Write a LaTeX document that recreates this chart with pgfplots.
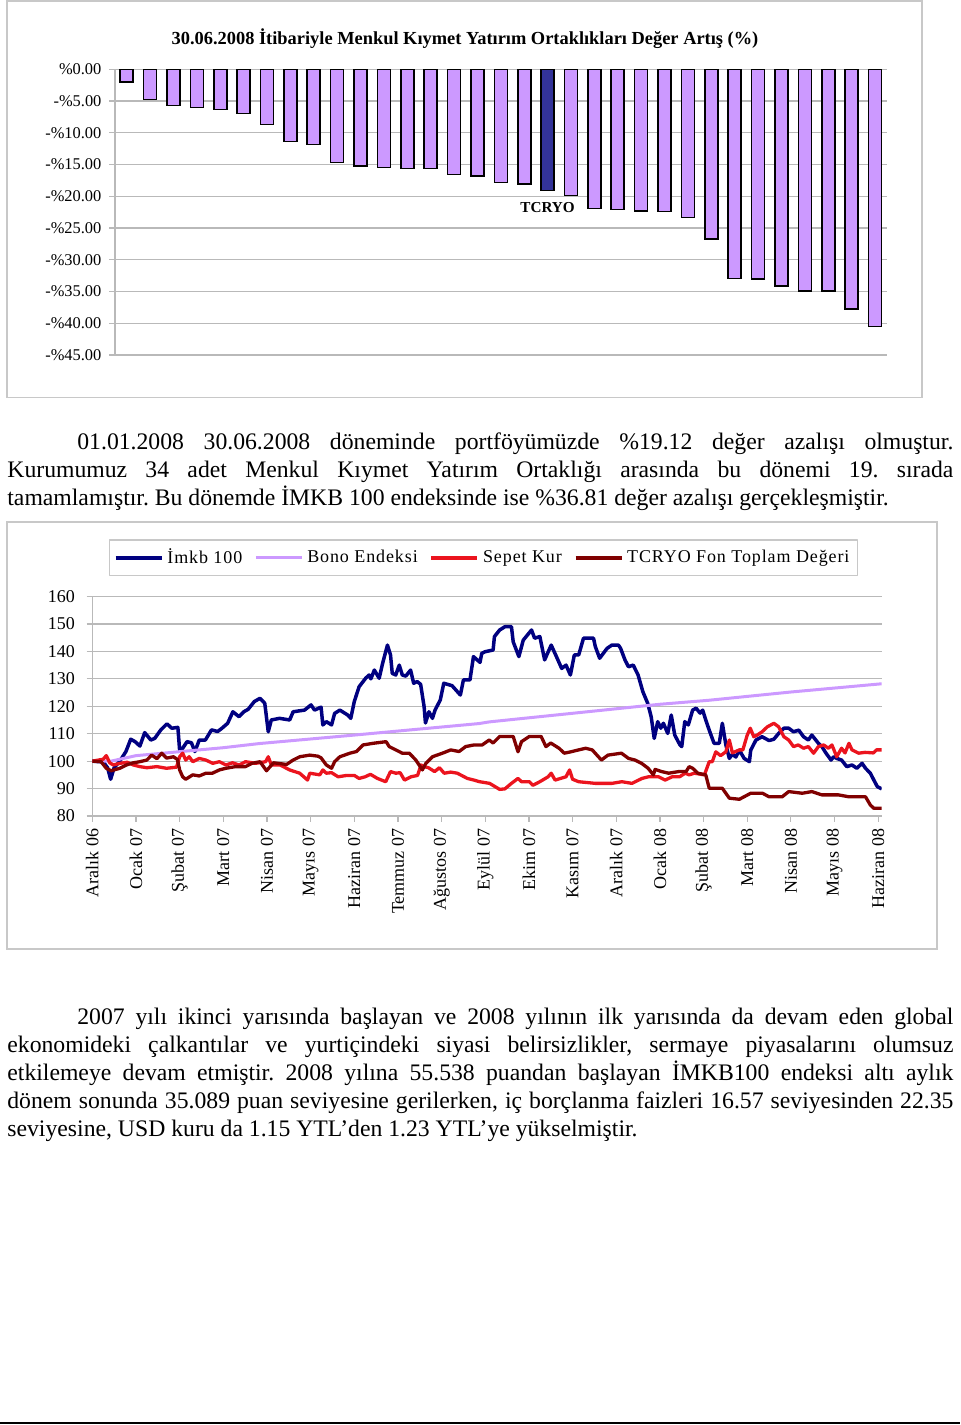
\documentclass[border=0pt]{standalone}
\usepackage{pgfplots}
\pgfplotsset{compat=1.18}
\usepackage{fontspec}
\setmainfont{Liberation Serif}
\definecolor{imkb}{RGB}{0,0,128}
\definecolor{bono}{RGB}{204,153,255}
\definecolor{sepet}{RGB}{235,20,30}
\definecolor{tcryo}{RGB}{128,0,0}
\definecolor{barfill}{RGB}{204,153,255}
\definecolor{barsel}{RGB}{51,51,153}
\definecolor{gridgray}{RGB}{185,185,185}
\definecolor{boxgray}{RGB}{200,200,200}
\begin{document}
\begin{tikzpicture}
\useasboundingbox (0pt,0pt) rectangle (480pt,-712.5pt);
% frames
\draw[boxgray, line width=0.8pt] (3.6pt,-0.4pt) rectangle (461pt,-198.8pt);
\draw[boxgray, line width=0.8pt] (3.6pt,-261pt) rectangle (468.4pt,-474.6pt);
% title
\node[font=\bfseries\fontsize{9.2}{10}\selectfont, anchor=base, inner sep=0pt] at (232.5pt,-22pt) {30.06.2008 İtibariyle Menkul Kıymet Yatırım Ortaklıkları Değer Artış (\%)};
% bar chart
\begin{axis}[
  at={(57.5pt,-177.5pt)}, anchor=south west, scale only axis,
  width=385.85pt, height=142.85pt,
  xmin=0.5, xmax=33.5, ymin=-45, ymax=0,
  axis x line=none, axis y line*=left,
  ytick={-45,-40,...,0},
  yticklabels={-\%45.00,-\%40.00,-\%35.00,-\%30.00,-\%25.00,-\%20.00,-\%15.00,-\%10.00,-\%5.00,\%0.00},
  ymajorgrids, grid style={gridgray, line width=0.6pt},
  axis line style={gridgray, line width=0.6pt},
  tick style={gridgray, line width=0.6pt}, tick align=outside, major tick length=2.8pt,
  yticklabel style={font=\fontsize{8.2}{9}\selectfont, inner sep=0pt, anchor=east},
  yticklabel shift=3.8pt,
  xtick=\empty,
  clip=false,
]
\addplot[ybar, bar width=6.5pt, bar shift=0pt, fill=barfill, draw=black, line width=0.8pt] coordinates {
(1,-2.0) (2,-4.73) (3,-5.67) (4,-5.99) (5,-6.30) (6,-6.99) (7,-8.67) (8,-11.40) (9,-11.87) (10,-14.65)
(11,-15.23) (12,-15.44) (13,-15.65) (14,-15.65) (15,-16.60) (16,-16.80) (17,-17.86) (18,-18.07)
(20,-19.85) (21,-21.90) (22,-22.10) (23,-22.30) (24,-22.40) (25,-23.37) (26,-26.70) (27,-32.98)
(28,-33.03) (29,-34.10) (30,-34.90) (31,-34.90) (32,-37.80) (33,-40.50)};
\addplot[ybar, bar width=6.5pt, bar shift=0pt, fill=barsel, draw=black, line width=0.8pt] coordinates {(19,-19.12)};
\node[font=\bfseries\fontsize{7.6}{8}\selectfont, inner sep=0pt] at (axis cs:19,-21.7) {TCRYO};
\end{axis}
% paragraph 1
\node[anchor=base west, inner sep=0pt] at (3.5pt,-224.5pt) {\parbox[t]{473pt}{\fontsize{11.85}{14}\selectfont\frenchspacing
\hspace*{35pt}01.01.2008 30.06.2008 döneminde portföyümüzde \%19.12 değer azalışı olmuştur.\linebreak
Kurumumuz 34 adet Menkul Kıymet Yatırım Ortaklığı arasında bu dönemi 19. sırada\linebreak
tamamlamıştır. Bu dönemde İMKB 100 endeksinde ise \%36.81 değer azalışı gerçekleşmiştir.}};
% line chart
\begin{axis}[
  at={(46.15pt,-408pt)}, anchor=south west, scale only axis,
  width=394.7pt, height=109.75pt,
  xmin=0, xmax=18.08, ymin=80, ymax=160,
  axis x line*=bottom, axis y line*=left,
  xtick={0,1,...,18},
  xticklabels={Aralık 06, Ocak 07, Şubat 07, Mart 07, Nisan 07, Mayıs 07, Haziran 07, Temmuz 07, Ağustos 07, Eylül 07, Ekim 07, Kasım 07, Aralık 07, Ocak 08, Şubat 08, Mart 08, Nisan 08, Mayıs 08, Haziran 08},
  ytick={80,90,...,160},
  ymajorgrids, grid style={gridgray, line width=0.6pt},
  axis line style={gridgray, line width=0.6pt},
  tick style={gridgray, line width=0.6pt}, tick align=outside, major tick length=2.8pt,
  xticklabel style={rotate=90, anchor=east, inner sep=0pt, font=\fontsize{9}{10}\selectfont},
  xticklabel shift=3.3pt,
  yticklabel style={inner sep=0pt, anchor=east, font=\fontsize{9}{10}\selectfont},
  yticklabel shift=5.7pt,
  /pgf/number format/assume math mode=true,
  legend columns=4,
  legend cell align=left,
  legend style={at={(0.4958,1.1761)}, anchor=center, draw=boxgray, line width=0.6pt,
    font=\fontsize{9}{10}\selectfont\addfontfeatures{LetterSpace=5},
    inner xsep=2pt, inner ysep=2.5pt,
    /tikz/every even column/.append style={column sep=4pt}},
  legend image code/.code={\draw[#1] (0pt,0pt) -- (23pt,0pt);},
  line join=round,
]
\addplot[imkb, line width=1.75pt] coordinates {
(0,100) (0.25,99.7) (0.35,97.6) (0.42,93.4) (0.5,97.6) (0.63,100) (0.77,103.5) (0.88,108) (0.98,107.1) (1.09,105.5)
(1.2,110.4) (1.34,107.7) (1.43,108.3) (1.57,111.4) (1.71,113.6) (1.82,112) (1.96,112.3) (2.0,104) (2.07,104.7) (2.17,107.1)
(2.27,106.7) (2.35,103.5) (2.45,107.7) (2.59,107.7) (2.73,111.4) (2.87,110.8) (2.97,112) (3.1,113.8) (3.22,118) (3.36,116.2)
(3.47,118) (3.57,118.9) (3.71,121.7) (3.84,122.9) (3.95,121.1) (4.03,110.7) (4.1,115) (4.29,115.6) (4.52,115) (4.6,118)
(4.86,118.6) (5.01,120.5) (5.09,118.6) (5.24,119.7) (5.28,113.2) (5.36,114.4) (5.48,113.2) (5.55,117.4) (5.67,118.6) (5.85,116.8)
(5.92,115.6) (6.0,121.7) (6.11,127.1) (6.26,130.2) (6.34,131.4) (6.38,130) (6.46,133.2) (6.57,130.2) (6.65,135.7) (6.76,142.3)
(6.83,138.7) (6.87,132) (6.95,131.4) (7.03,135) (7.1,131.4) (7.18,131) (7.29,133.2) (7.36,128.4) (7.44,129) (7.52,128)
(7.6,119.8) (7.63,113.9) (7.71,118) (7.79,115.6) (7.85,118.6) (7.97,122.3) (8.05,128.4) (8.24,127.5) (8.43,124.1) (8.5,129.6)
(8.65,129.6) (8.73,138.1) (8.88,136) (8.92,139.3) (9.0,139.9) (9.18,140.5) (9.21,145.4) (9.33,147.8) (9.45,149) (9.6,149)
(9.64,143.5) (9.77,138.1) (9.87,144.1) (10.06,147.8) (10.13,144.8) (10.25,145.4) (10.36,136.9) (10.51,142.3) (10.63,138.1) (10.75,133.8)
(10.85,135) (10.95,131.4) (11.04,138.7) (11.14,138.7) (11.25,144.8) (11.48,144.8) (11.52,141.8) (11.62,137.5) (11.79,141.1) (11.9,142.3)
(12.05,142.3) (12.1,141.1) (12.2,136.9) (12.28,134.4) (12.39,135) (12.5,131.4) (12.61,125.3) (12.72,121.1) (12.8,116.2) (12.87,108.3)
(12.95,114.4) (13.02,112) (13.08,113.8) (13.18,110.1) (13.26,116.8) (13.34,109.5) (13.46,105.9) (13.5,105.3) (13.57,114.4) (13.65,113.2)
(13.75,118.6) (13.83,119.3) (13.92,117.5) (13.98,118.6) (14.05,115) (14.13,111.3) (14.24,106.5) (14.36,106.5) (14.43,113.8) (14.51,106)
(14.59,101) (14.66,102.5) (14.74,101.5) (14.82,104) (14.93,101) (15.05,99.8) (15.08,104) (15.2,107.7) (15.34,108.9) (15.5,107.5)
(15.61,108) (15.72,110.1) (15.84,112) (15.95,112) (16.06,110.7) (16.18,111.3) (16.29,108.9) (16.4,107.7) (16.48,109.5) (16.63,106.5)
(16.71,105.3) (16.8,103) (16.92,100.4) (16.98,101.6) (17.05,101) (17.16,100.4) (17.28,98) (17.4,98.6) (17.51,97.4) (17.63,99.2)
(17.71,97.4) (17.82,95.6) (17.9,93.1) (17.98,90.7) (18.08,89.9)};
\addlegendentry{İmkb 100}
\addplot[bono, line width=1.5pt] coordinates {
(0,100) (0.43,100) (1,102) (3,104.9) (3.82,106.4) (6,109.5) (8.86,113.7) (9.09,114.3) (12.98,120.7) (14.13,122.2) (16,125.2) (18.08,128.2)};
\addlegendentry{Bono Endeksi}
\addplot[sepet, line width=1.65pt] coordinates {
(0,100) (0.25,100.7) (0.32,102) (0.4,99.4) (0.48,98.6) (0.63,99.2) (0.8,99.6) (0.94,98.6) (1.09,98) (1.25,97.6)
(1.48,98) (1.7,97.4) (1.93,97.8) (2.0,101.6) (2.07,102.9) (2.14,100.4) (2.22,101.6) (2.3,99.8) (2.45,101) (2.6,100.4)
(2.76,99.2) (2.91,99.8) (3.06,98.6) (3.21,99.4) (3.36,98.6) (3.51,99.8) (3.74,99.2) (3.97,99.8) (4.03,101.6) (4.1,98.6)
(4.3,98.6) (4.52,96.8) (4.75,95.6) (4.93,93.1) (4.98,95.6) (5.21,95) (5.28,96.8) (5.36,95.6) (5.48,95.8) (5.63,94.3)
(5.83,94.8) (6.0,94.8) (6.11,93.7) (6.25,94.3) (6.37,95.2) (6.53,93.7) (6.72,92.5) (6.83,96.2) (6.95,95.6) (7.05,95.8)
(7.15,93.1) (7.3,94.3) (7.45,94.8) (7.53,98.6) (7.6,98) (7.7,97.6) (7.84,96.2) (7.95,97.6) (8.06,95.6) (8.21,96)
(8.36,95.6) (8.59,93.7) (8.74,93.1) (8.87,92.5) (9.1,91.9) (9.33,89.7) (9.45,89.9) (9.6,91.9) (9.75,93.7) (9.83,92.5)
(10.01,92.5) (10.09,91.2) (10.25,92.5) (10.44,94.3) (10.51,95.6) (10.6,93.1) (10.85,94.3) (10.93,96.8) (11.0,93.4) (11.14,92.5)
(11.52,91.9) (11.9,91.9) (12.13,92.5) (12.36,91.9) (12.59,93.7) (12.74,94.3) (12.97,94.3) (13.12,93.1) (13.28,94.3) (13.45,94.3)
(13.58,95.6) (13.67,95) (13.79,95.6) (14.02,95) (14.13,99.8) (14.2,99.8) (14.28,103.4) (14.39,102) (14.51,103.4) (14.59,107.7)
(14.66,103) (14.82,104.1) (14.9,104.1) (15.0,109.5) (15.07,112) (15.15,108.9) (15.23,109.5) (15.34,110.7) (15.46,112.5) (15.61,113.8)
(15.72,112.5) (15.84,108.9) (15.95,107.7) (16.06,105.3) (16.17,105.9) (16.29,104.7) (16.4,105.3) (16.52,102.9) (16.63,105.3) (16.75,105.9)
(16.86,104.7) (16.94,105.9) (17.05,101.6) (17.16,104.7) (17.24,103) (17.33,106.5) (17.4,104.1) (17.55,102.9) (17.7,103.2) (17.89,103)
(17.96,104.1) (18.08,104.1)};
\addlegendentry{Sepet Kur}
\addplot[tcryo, line width=1.65pt] coordinates {
(0,100) (0.2,99.8) (0.32,97.4) (0.43,96.5) (0.63,97.4) (0.78,98.6) (0.94,99.4) (1.09,99.8) (1.25,100.4) (1.36,102.2)
(1.48,100.9) (1.59,102.9) (1.7,101.1) (1.86,101.6) (1.95,100.6) (2.0,96.8) (2.07,94.3) (2.14,93.4) (2.3,95) (2.45,94.6)
(2.6,95.6) (2.75,95.6) (2.91,96.8) (3.06,97.4) (3.28,98) (3.51,98) (3.66,99.2) (3.84,99.8) (3.99,96.5) (4.15,99.4)
(4.45,98.8) (4.6,100.4) (4.75,101.6) (4.98,102.2) (5.17,101.8) (5.24,101.2) (5.36,98.6) (5.48,97.4) (5.55,99.8) (5.67,101.6)
(5.9,102.9) (6.05,103.5) (6.2,105.9) (6.43,106.5) (6.73,107.1) (6.8,105.3) (6.95,104.1) (7.1,102.9) (7.26,102.9) (7.41,100.4)
(7.56,96.8) (7.64,99.2) (7.79,101.6) (8.02,102.9) (8.21,104.1) (8.4,103.5) (8.55,105.3) (8.74,105.9) (8.93,105.9) (9.09,107.7)
(9.18,106.6) (9.33,109) (9.64,109) (9.75,103.4) (9.83,107.1) (10.01,109) (10.28,109) (10.39,105.3) (10.5,106.6) (10.69,104.7)
(10.81,102.9) (10.96,103.4) (11.14,104.1) (11.3,104.7) (11.45,104.1) (11.66,100.4) (11.81,102.2) (12.12,102.9) (12.28,101) (12.43,100.4)
(12.58,99.2) (12.73,97.4) (12.85,95) (12.89,97) (13.04,96.2) (13.2,95.6) (13.43,96.2) (13.6,96.2) (13.67,98) (13.75,97.4)
(13.87,95.6) (14.05,95) (14.13,90.1) (14.43,90.1) (14.59,86.5) (14.82,86.1) (15.08,88.3) (15.35,88.3) (15.5,87) (15.8,87)
(15.95,88.9) (16.26,88.3) (16.48,88.9) (16.71,87.7) (17.09,87.7) (17.33,87) (17.71,87) (17.82,84) (17.9,82.8) (18.08,82.8)};
\addlegendentry{TCRYO Fon Toplam Değeri}
\end{axis}
% paragraph 2
\node[anchor=base west, inner sep=0pt] at (3.5pt,-512pt) {\parbox[t]{473pt}{\fontsize{11.85}{14}\selectfont\frenchspacing
\hspace*{35pt}2007 yılı ikinci yarısında başlayan ve 2008 yılının ilk yarısında da devam eden global\linebreak
ekonomideki çalkantılar ve yurtiçindeki siyasi belirsizlikler, sermaye piyasalarını olumsuz\linebreak
etkilemeye devam etmiştir. 2008 yılına 55.538 puandan başlayan İMKB100 endeksi altı aylık\linebreak
dönem sonunda 35.089 puan seviyesine gerilerken, iç borçlanma faizleri 16.57 seviyesinden 22.35\linebreak
seviyesine, USD kuru da 1.15 YTL’den 1.23 YTL’ye yükselmiştir.}};
% bottom rule
\draw[black, line width=0.9pt] (0pt,-711.3pt) -- (480pt,-711.3pt);
\end{tikzpicture}
\end{document}
